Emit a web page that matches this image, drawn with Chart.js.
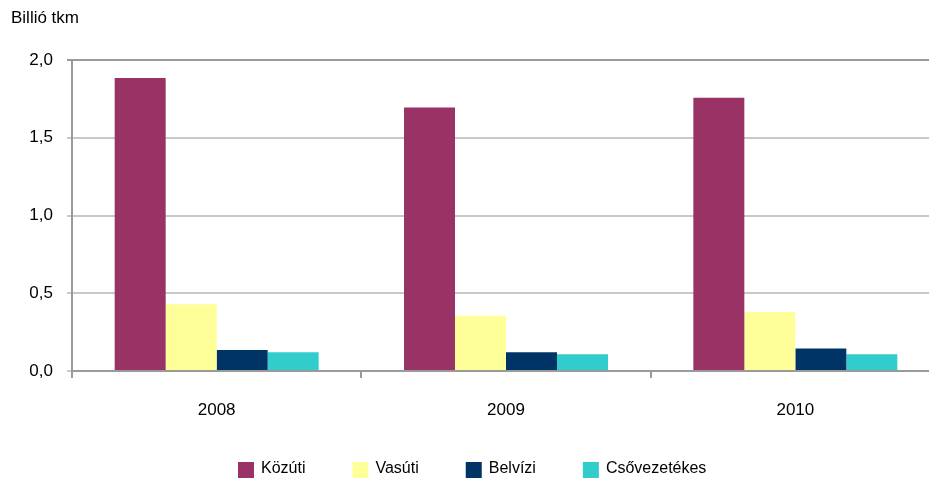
<!DOCTYPE html>
<html lang="hu">
<head>
<meta charset="utf-8">
<title>Árufuvarozási teljesítmény</title>
<script src="https://cdn.jsdelivr.net/npm/chart.js@4.4.0/dist/chart.umd.min.js"></script>
<style>
    html, body { margin: 0; padding: 0; background: #fff; overflow: hidden; }
    #wrap { width: 940px; height: 483px; position: relative; }
</style>
</head>
<body>
<div id="wrap"><canvas id="freightChart" width="940" height="483"></canvas></div>
<script>
// === Adatok ===
const years = ['2008', '2009', '2010'];
const seriesNames = ['Közúti', 'Vasúti', 'Belvízi', 'Csővezetékes'];
const kozuti = [1.885, 1.695, 1.757];
const vasuti = [0.43, 0.355, 0.38];
const belvizi = [0.135, 0.12, 0.145];
const csovezetekes = [0.12, 0.107, 0.107];
const seriesColors = ['#993366', '#FFFF99', '#003366', '#33CCCC'];
const yTicks = [0, 0.5, 1.0, 1.5, 2.0];
const unitLabel = 'Billió tkm';

const FONT = '"Liberation Sans", Arial, sans-serif';
const AXIS_GREY = '#9a9a9a';

// Mértékegység és jelmagyarázat rajzolása
const extrasPlugin = {
    id: 'extras',
    afterDraw(chart) {
        const ctx = chart.ctx;
        ctx.save();
        ctx.fillStyle = '#000';
        ctx.font = '17px ' + FONT;
        ctx.textBaseline = 'middle';
        ctx.textAlign = 'left';
        ctx.fillText(unitLabel, 11, 18);

        // jelmagyarázat
        ctx.font = '16px ' + FONT;
        let x = 238;
        const y = 470;
        chart.data.datasets.forEach(ds => {
            ctx.fillStyle = ds.backgroundColor;
            ctx.fillRect(x, y - 8, 16, 16);
            ctx.fillStyle = '#000';
            ctx.fillText(ds.label, x + 23, y - 1);
            x += 23 + ctx.measureText(ds.label).width + 47;
        });
        ctx.restore();
    }
};

const values = [kozuti, vasuti, belvizi, csovezetekes];

new Chart(document.getElementById('freightChart'), {
    type: 'bar',
    data: {
        labels: years,
        datasets: seriesNames.map((name, i) => ({
            label: name,
            data: values[i],
            backgroundColor: seriesColors[i],
            borderWidth: 0,
            categoryPercentage: 0.705,
            barPercentage: 1.0
        }))
    },
    options: {
        responsive: false,
        animation: false,
        layout: { padding: { top: 60, right: 0, left: 0, bottom: 0 } },
        plugins: {
            legend: { display: false },
            title: { display: false },
            tooltip: { enabled: false }
        },
        scales: {
            x: {
                afterFit: scale => { scale.height = 112; },
                grid: {
                    offset: true,
                    drawOnChartArea: false,
                    drawTicks: true,
                    tickLength: 7,
                    color: AXIS_GREY,
                    lineWidth: 2
                },
                border: { color: AXIS_GREY, width: 2 },
                ticks: {
                    color: '#000',
                    font: { family: FONT, size: 17 },
                    padding: 22
                }
            },
            y: {
                min: 0,
                max: 2.0,
                afterFit: scale => { scale.width = 72; },
                afterBuildTicks: scale => { scale.ticks = yTicks.map(v => ({ value: v })); },
                grid: {
                    color: ctx => ctx.tick && ctx.tick.value === 2 ? AXIS_GREY : '#c8c8c8',
                    lineWidth: 2,
                    drawTicks: true,
                    tickLength: 5
                },
                border: { color: AXIS_GREY, width: 2 },
                ticks: {
                    color: '#000',
                    font: { family: FONT, size: 17 },
                    padding: 14,
                    callback: v => v.toFixed(1).replace('.', ',')
                }
            }
        }
    },
    plugins: [extrasPlugin]
});
</script>
</body>
</html>
